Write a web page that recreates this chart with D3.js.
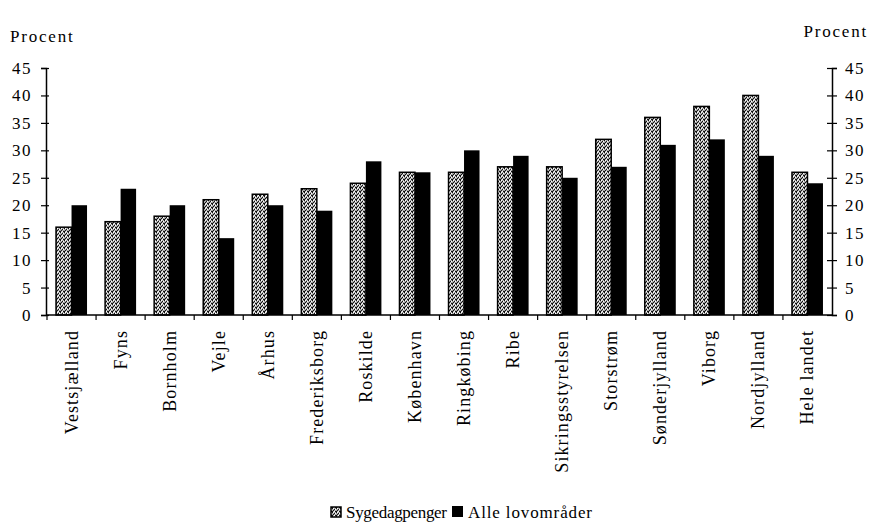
<!DOCTYPE html>
<html>
<head>
<meta charset="utf-8">
<script src="https://cdn.jsdelivr.net/npm/d3@7.9.0/dist/d3.min.js"></script>
<style>
  body { margin: 0; background: #fff; }
  svg { font-family: "Liberation Serif", "DejaVu Serif", serif; }
</style>
</head>
<body>
<svg id="chart" width="872" height="532"></svg>
<script>
// data
const regions = ["Vestsjælland", "Fyns", "Bornholm", "Vejle", "Århus", "Frederiksborg",
  "Roskilde", "København", "Ringkøbing", "Ribe", "Sikringsstyrelsen", "Storstrøm",
  "Sønderjylland", "Viborg", "Nordjylland", "Hele landet"];
const sygedagpenger = [16, 17, 18, 21, 22, 23, 24, 26, 26, 27, 27, 32, 36, 38, 40, 26];
const alleLovomraader = [20, 23, 20, 14, 20, 19, 28, 26, 30, 29, 25, 27, 31, 32, 29, 24];
const seriesNames = ["Sygedagpenger", "Alle lovområder"];
const yTicks = [0, 5, 10, 15, 20, 25, 30, 35, 40, 45];

const svg = d3.select('#chart');

// speckled fill for the first series
const defs = svg.append('defs');
const pat = defs.append('pattern')
  .attr('id', 'speckle')
  .attr('patternUnits', 'userSpaceOnUse')
  .attr('width', 4).attr('height', 4);
pat.append('rect').attr('width', 4).attr('height', 4).attr('fill', '#aaa');
[[0, 0], [2, 1], [1, 2], [3, 3], [0, 3]].forEach(([x, y]) => {
  pat.append('rect').attr('x', x).attr('y', y).attr('width', 1).attr('height', 1).attr('fill', '#111');
});
[[1, 0], [3, 1], [2, 3]].forEach(([x, y]) => {
  pat.append('rect').attr('x', x).attr('y', y).attr('width', 1).attr('height', 1).attr('fill', '#fff');
});

const x = d3.scaleBand().domain(regions).range([47, 832]);
const y = d3.scaleLinear().domain([0, 45]).range([315, 68]);

const groupW = 31;
const barW = groupW / 2;

// bars
const g = svg.append('g');
regions.forEach((r, i) => {
  const cx = x(r) + x.bandwidth() / 2;
  g.append('rect')
    .attr('x', cx - barW)
    .attr('y', y(sygedagpenger[i]))
    .attr('width', barW)
    .attr('height', y(0) - y(sygedagpenger[i]))
    .attr('fill', 'url(#speckle)')
    .attr('stroke', '#000')
    .attr('stroke-width', 1.5);
  g.append('rect')
    .attr('x', cx)
    .attr('y', y(alleLovomraader[i]))
    .attr('width', barW)
    .attr('height', y(0) - y(alleLovomraader[i]))
    .attr('fill', '#000');
});

// left axis
const leftAx = svg.append('g').attr('transform', 'translate(46,0)')
  .call(d3.axisLeft(y).tickValues(yTicks).tickSize(5).tickPadding(9));
leftAx.selectAll('line').attr('x2', -5).attr('x1', 3);

// right axis
const rightAx = svg.append('g').attr('transform', 'translate(832,0)')
  .call(d3.axisRight(y).tickValues(yTicks).tickSize(5).tickPadding(8));
rightAx.selectAll('line').attr('x1', -5).attr('x2', 5);

[leftAx, rightAx].forEach(a => {
  a.select('.domain').attr('stroke', '#000').attr('stroke-width', 1.5);
  a.selectAll('line').attr('stroke', '#000').attr('stroke-width', 1.2);
  a.selectAll('text').attr('font-size', 17).attr('fill', '#000')
    .attr('letter-spacing', 1.5)
    .attr('font-family', '"Liberation Serif", serif');
});

// bottom axis with ticks at category boundaries
svg.append('line')
  .attr('x1', 46).attr('x2', 832)
  .attr('y1', y(0)).attr('y2', y(0))
  .attr('stroke', '#000').attr('stroke-width', 1.5);
svg.append('g').selectAll('line')
  .data(regions)
  .join('line')
  .attr('x1', d => x(d)).attr('x2', d => x(d))
  .attr('y1', y(0)).attr('y2', y(0) + 5)
  .attr('stroke', '#000').attr('stroke-width', 1.2);

// category labels
svg.append('g').selectAll('text')
  .data(regions)
  .join('text')
  .attr('transform', d => `translate(${x(d) + x.bandwidth() / 2 + 6},${y(0) + 15}) rotate(-90)`)
  .attr('text-anchor', 'end')
  .attr('font-size', 18)
  .attr('letter-spacing', 1.1)
  .text(d => d);

// axis titles
svg.append('text').attr('x', 10).attr('y', 42).attr('font-size', 17)
  .attr('letter-spacing', 1.8).text('Procent');
svg.append('text').attr('x', 868).attr('y', 37).attr('font-size', 17)
  .attr('letter-spacing', 1.8).attr('text-anchor', 'end').text('Procent');

// legend
const leg = svg.append('g');
leg.append('rect').attr('x', 331).attr('y', 507).attr('width', 10).attr('height', 10)
  .attr('fill', 'url(#speckle)').attr('stroke', '#000').attr('stroke-width', 1.5);
leg.append('text').attr('x', 346).attr('y', 518).attr('font-size', 17)
  .attr('textLength', 101).attr('lengthAdjust', 'spacing').text(seriesNames[0]);
leg.append('rect').attr('x', 452).attr('y', 506).attr('width', 11).attr('height', 11)
  .attr('fill', '#000');
leg.append('text').attr('x', 468).attr('y', 518).attr('font-size', 17)
  .attr('textLength', 124).attr('lengthAdjust', 'spacing').text(seriesNames[1]);
</script>
</body>
</html>
